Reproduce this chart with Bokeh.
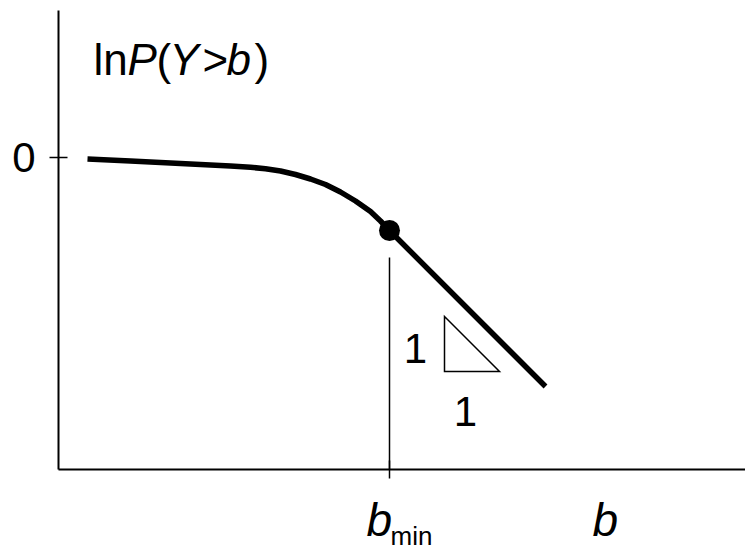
from bokeh.plotting import figure
from bokeh.models import Range1d, LinearAxis, FixedTicker
from bokeh.core.properties import value
from bokeh.embed import file_html
from bokeh.resources import INLINE

FONT = "Liberation Sans"

# ln P(Y > b) against b: flat near 0, bending into a straight tail of slope -1
b_curve = [0.29, 0.72, 1.22, 1.72, 1.92, 2.07, 2.22, 2.37, 2.52, 2.67, 2.82,
           2.97, 3.12, 3.22, 3.31, 4.87]
lnp_curve = [-0.015, -0.035, -0.06, -0.085, -0.098, -0.112, -0.135, -0.17,
             -0.215, -0.27, -0.345, -0.435, -0.54, -0.635, -0.73, -2.29]

# threshold where the power-law tail begins
b_min = 3.31
lnp_at_b_min = -0.73
b_min_marker_top = -1.0

# axis extents
b_axis = (0.0, 6.87)
lnp_axis = (-3.12, 1.47)
y_ticks = [0]

# slope triangle (1 over 1)
tri_b = [3.86, 3.86, 4.41]
tri_lnp = [-1.59, -2.14, -2.14]

p = figure(width=745, height=551,
           x_range=Range1d(-0.58, 6.87), y_range=Range1d(-3.94, 1.57),
           x_axis_type=None, y_axis_type=None,
           min_border=0, toolbar_location=None, output_backend="svg")
p.outline_line_color = None
p.xgrid.visible = False
p.ygrid.visible = False
p.background_fill_color = "white"
p.border_fill_color = "white"

# axes crossing at the origin of the drawing
yaxis = LinearAxis(fixed_location=b_axis[0], bounds=lnp_axis,
                   ticker=FixedTicker(ticks=y_ticks),
                   axis_line_width=2, axis_line_color="black",
                   major_tick_in=9, major_tick_out=9,
                   major_tick_line_width=1.5, major_tick_line_color="black",
                   minor_tick_line_color=None,
                   major_label_standoff=14,
                   major_label_text_font=FONT,
                   major_label_text_font_size="42px",
                   major_label_text_color="black")
p.add_layout(yaxis, "left")

xaxis = LinearAxis(fixed_location=lnp_axis[0], bounds=b_axis,
                   ticker=FixedTicker(ticks=[b_min]),
                   axis_line_width=2, axis_line_color="black",
                   major_tick_in=9, major_tick_out=9,
                   major_tick_line_width=1.5, major_tick_line_color="black",
                   minor_tick_line_color=None,
                   major_label_overrides={b_min: ""},
                   major_label_text_font_size="0px")
p.add_layout(xaxis, "below")

# thin marker from the axis up to the threshold
p.segment(x0=[b_min], y0=[lnp_axis[0]], x1=[b_min], y1=[b_min_marker_top],
          line_color="black", line_width=1.5)

# the curve and the threshold point
p.line(b_curve, lnp_curve, line_color="black", line_width=5.5,
       line_join="round", line_cap="butt")
p.scatter([b_min], [lnp_at_b_min], size=21, marker="circle",
          fill_color="black", line_color=None)

# slope triangle and its labels
p.patch(tri_b, tri_lnp, fill_color="white", line_color="black",
        line_width=1.5, line_join="miter")
p.text(x=[3.57, 4.07], y=[-1.91, -2.54], text=["1", "1"],
       text_font=value(FONT), text_font_size="42px", text_color="black",
       text_align="center", text_baseline="alphabetic")

# y-axis title: ln P(Y>b), with the variables in italics
p.text(x=[0.35, 0.98, 1.44, 1.96], y=[0.98] * 4, text=["ln", "(", ">", ")"],
       text_font=value(FONT), text_font_size="44px", text_color="black",
       text_align="left", text_baseline="alphabetic")
p.text(x=[0.69, 1.11, 1.68], y=[0.98] * 3, text=["P", "Y", "b"],
       text_font=value(FONT), text_font_size="44px", text_font_style="italic",
       text_color="black", text_align="left", text_baseline="alphabetic")

# x-axis labels: b_min under the tick, b further right
p.text(x=[3.08, 5.34], y=[-3.625, -3.625], text=["b", "b"],
       text_font=value(FONT), text_font_size="46px", text_font_style="italic",
       text_color="black", text_align="left", text_baseline="alphabetic")
p.text(x=[3.32], y=[-3.78], text=["min"],
       text_font=value(FONT), text_font_size="26px", text_color="black",
       text_align="left", text_baseline="alphabetic")

open("out.html", "w").write(file_html(p, INLINE))
